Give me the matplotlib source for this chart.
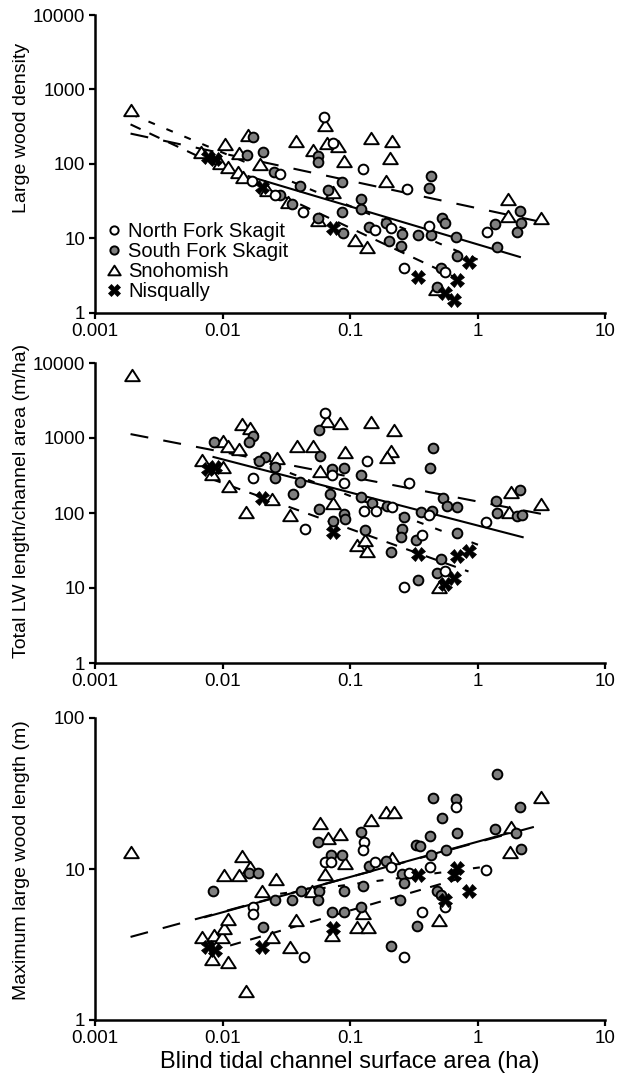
import matplotlib
matplotlib.use("Agg")
import matplotlib.pyplot as plt
from matplotlib.path import Path
from matplotlib.ticker import FixedLocator, FixedFormatter, NullLocator

plt.rcParams['font.family'] = ['Liberation Sans', 'DejaVu Sans']
plt.rcParams['lines.scale_dashes'] = False

# ---- panel 1: large wood density ----
nf1_x = [0.062, 0.074, 0.127, 0.282, 0.028, 0.017, 0.026, 0.043, 0.158, 0.211, 0.413, 0.263, 0.561, 1.18]
nf1_y = [428, 191, 86, 46, 73, 59, 38, 22.7, 13, 13.8, 14.7, 4.0, 3.5, 12.2]
sf1_x = [0.0174, 0.0156, 0.0209, 0.0255, 0.0407, 0.0565, 0.0565, 0.0676, 0.087, 0.087, 0.121, 0.121,
         0.14, 0.193, 0.204, 0.258, 0.249, 0.344, 0.429, 0.435, 0.413, 0.523, 0.561, 0.673, 0.686, 0.513,
         0.478, 1.36, 1.41, 2.14, 2.18, 2.03, 0.0353, 0.0565, 0.0887, 0.0284]
sf1_y = [230, 132, 145, 78, 51, 128, 106, 45, 57, 22.7, 34, 24.9, 14.3, 16.1, 9.2, 11.5, 7.9, 11.1,
         11.1, 69, 47.6, 18.8, 16.1, 10.5, 5.8, 4.0, 2.2, 15.7, 7.7, 23.4, 16.1, 12.2, 29, 18.8, 11.9, 38]
sn1_x = [0.0019, 0.0068, 0.0105, 0.0159, 0.0135, 0.0198, 0.0096, 0.0111, 0.0133, 0.0146, 0.0224, 0.0328,
         0.0379, 0.0515, 0.064, 0.0664, 0.081, 0.0904, 0.0742, 0.0565, 0.110, 0.137, 0.145, 0.215, 0.207,
         0.193, 1.75, 1.75, 3.13, 0.469]
sn1_y = [530, 145, 185, 245, 141, 100, 103, 91, 78, 67, 45, 31, 204, 154, 334, 191, 175, 110, 42, 17.7,
         9.5, 7.7, 223, 204, 120, 59, 34, 20, 18.8, 2.1]
nq_x = [0.0077, 0.0088, 0.0205, 0.073, 0.34, 0.56, 0.65, 0.69, 0.85]
nq1_y = [124, 117, 49, 13.8, 3.0, 1.85, 1.5, 2.8, 4.8]

# ---- panel 2: total LW length / channel area ----
nf2_x = [0.0632, 0.0175, 0.0447, 0.0723, 0.0894, 0.135, 0.128, 0.161, 0.214, 0.289, 0.368, 0.415, 0.267, 0.561, 1.17]
nf2_y = [2154, 296, 61, 324, 251, 489, 107, 105, 119, 251, 51, 95, 10.2, 17, 75]
sf2_x = [0.0085, 0.0175, 0.016, 0.0214, 0.0192, 0.026, 0.026, 0.0355, 0.0407, 0.0568, 0.0578, 0.0575,
         0.0702, 0.0723, 0.0894, 0.0736, 0.0894, 0.0912, 0.122, 0.122, 0.149, 0.132, 0.195, 0.267, 0.258,
         0.252, 0.21, 0.327, 0.34, 0.361, 0.45, 0.423, 0.44, 0.535, 0.579, 0.686, 0.513, 0.483, 0.693,
         1.39, 1.43, 2.15, 2.05, 2.25]
sf2_y = [877, 1054, 893, 553, 489, 406, 290, 179, 256, 1291, 581, 113, 179, 386, 398, 79, 97, 83, 321,
         162, 136, 60, 125, 89, 61, 48, 30, 43, 12.9, 102, 729, 395, 107, 157, 125, 121, 24.4, 15.7, 54,
         143, 99, 205, 90, 95]
sn2_x = [0.00194, 0.0142, 0.0165, 0.0101, 0.011, 0.0069, 0.0082, 0.0101, 0.0135, 0.0113, 0.0153, 0.0267,
         0.0244, 0.034, 0.0384, 0.0513, 0.066, 0.083, 0.0585, 0.092, 0.0736, 0.114, 0.13, 0.136, 0.147,
         0.221, 0.211, 0.195, 0.498, 1.84, 1.77, 3.13]
sn2_y = [6900, 1537, 1347, 920, 774, 514, 331, 406, 713, 231, 104, 535, 154, 94, 774, 789, 1700, 1585,
         366, 644, 136, 37, 43, 31, 1618, 1291, 678, 553, 10.2, 192, 104, 132]
nq2_y = [390, 410, 157, 56, 28, 11.3, 13.5, 27, 31]

# ---- panel 3: maximum large wood length ----
nf3_x = [0.0173, 0.0173, 0.0432, 0.0632, 0.0708, 0.128, 0.127, 0.158, 0.211, 0.265, 0.289, 0.368, 0.423, 0.561, 0.684, 1.17]
nf3_y = [5.6, 5.0, 2.6, 11.2, 11.2, 15, 13.4, 11.2, 10.3, 2.6, 9.4, 5.2, 10.3, 5.6, 25.7, 9.8]
sf3_x = [0.0084, 0.016, 0.019, 0.0207, 0.026, 0.0351, 0.0413, 0.0557, 0.0568, 0.0557, 0.0708, 0.0865,
         0.0905, 0.0723, 0.0905, 0.122, 0.127, 0.122, 0.142, 0.193, 0.21, 0.245, 0.256, 0.267, 0.327,
         0.356, 0.334, 0.423, 0.433, 0.45, 0.53, 0.571, 0.483, 0.513, 0.684, 0.693, 1.37, 1.42, 2.17, 2.0, 2.21]
sf3_y = [7.1, 9.4, 9.4, 4.15, 6.2, 6.2, 7.2, 15.2, 7.2, 6.2, 12.4, 12.4, 7.2, 5.2, 5.2, 17.7, 7.7, 5.6,
         10.5, 11.3, 3.1, 6.2, 9.3, 8.1, 14.4, 14.3, 4.2, 16.6, 12.4, 29.6, 21.7, 13.4, 7.2, 6.7, 29, 17.2,
         18.4, 42.6, 25.7, 17.4, 13.5]
sn3_x = [0.0019, 0.0069, 0.0086, 0.0099, 0.0102, 0.011, 0.0082, 0.0111, 0.0153, 0.0102, 0.0134, 0.0142,
         0.0163, 0.0204, 0.0244, 0.0264, 0.034, 0.0379, 0.0503, 0.0585, 0.0668, 0.064, 0.083, 0.092, 0.0723,
         0.114, 0.138, 0.127, 0.145, 0.192, 0.221, 0.214, 0.498, 1.84, 1.79, 3.17]
sn3_y = [13.0, 3.57, 3.66, 3.57, 4.05, 4.65, 2.52, 2.43, 1.56, 9.1, 9.1, 12.1, 10.3, 7.1, 3.57, 8.6, 3.05,
         4.6, 7.1, 20.3, 16.1, 9.2, 17.1, 11, 3.66, 4.15, 4.15, 5.1, 21.1, 23.9, 23.9, 11.8, 4.6, 19.1, 13.0, 29.9]
nq3_y = [3.05, 2.9, 3.05, 4.05, 9.1, 6.2, 9.1, 10.1, 7.1]

# regression lines, end points: (x ends, y ends)
fits1 = {'solid': ([0.016, 2.15], [68.6, 5.65]), 'long': ([0.0019, 3.2], [256, 16.6]),
         'short': ([0.0019, 1.16], [469, 4.7]), 'med': ([0.0019, 0.8], [340, 2.6])}
fits2 = {'solid': ([0.0085, 2.26], [558, 47.6]), 'long': ([0.0019, 3.2], [1127, 97]),
         'short': ([0.0175, 1.2], [524, 33.7]), 'med': ([0.008, 0.85], [288, 16.6])}
fits3 = {'solid': ([0.0073, 1.85], [4.8, 17.5]), 'long': ([0.0019, 3.1], [3.55, 19.5]),
         'short': ([0.02, 1.3], [6.6, 10.5]), 'med': ([0.008, 0.85], [2.85, 9.0])}

xticks = [0.001, 0.01, 0.1, 1, 10]
xticklabels = ['0.001', '0.01', '0.1', '1', '10']

tri = Path([(0, 0.78), (-1, -0.78), (1, -0.78), (0, 0.78)],
           [Path.MOVETO, Path.LINETO, Path.LINETO, Path.CLOSEPOLY])

dash = {'solid': '-', 'long': (0, (13, 11)), 'short': (0, (5, 9)), 'med': (0, (8, 7))}

fig = plt.figure(figsize=(6.38, 10.88), dpi=100)
L, W = 95 / 638, 510 / 638
axes = [fig.add_axes([L, 1 - 313 / 1088, W, 298 / 1088]),
        fig.add_axes([L, 1 - 663 / 1088, W, 300 / 1088]),
        fig.add_axes([L, 1 - 1020 / 1088, W, 302 / 1088])]

panels = [
    (nf1_x, nf1_y, sf1_x, sf1_y, sn1_x, sn1_y, nq1_y, fits1, (1, 10000), 'Large wood density', 0.62),
    (nf2_x, nf2_y, sf2_x, sf2_y, sn2_x, sn2_y, nq2_y, fits2, (1, 10000), 'Total LW length/channel area (m/ha)', 0.54),
    (nf3_x, nf3_y, sf3_x, sf3_y, sn3_x, sn3_y, nq3_y, fits3, (1, 100), 'Maximum large wood length (m)', 0.53),
]

for ax, (nfx, nfy, sfx, sfy, snx, sny, nqy, fits, ylim, ylab, ylab_y) in zip(axes, panels):
    ax.set_xscale('log')
    ax.set_yscale('log')
    for k in ['long', 'short', 'med', 'solid']:
        fx, fy = fits[k]
        ax.plot(fx, fy, color='black', lw=1.5, linestyle=dash[k], zorder=2)
    h_sn, = ax.plot(snx, sny, linestyle='none', marker=tri, ms=10.5, mfc='white', mec='black', mew=1.4, zorder=3)
    h_sf, = ax.plot(sfx, sfy, linestyle='none', marker='o', ms=7, mfc='#7f7f7f', mec='black', mew=1.4, zorder=4)
    h_nf, = ax.plot(nfx, nfy, linestyle='none', marker='o', ms=7, mfc='white', mec='black', mew=1.4, zorder=5)
    h_nq, = ax.plot(nq_x, nqy, linestyle='none', marker='X', ms=10, mfc='black', mec='black', mew=0.5, zorder=6)

    ax.set_xlim(0.001, 10)
    ax.set_ylim(*ylim)
    ax.xaxis.set_major_locator(FixedLocator(xticks))
    ax.xaxis.set_major_formatter(FixedFormatter(xticklabels))
    yt = [10 ** i for i in range(len(str(ylim[1])))]
    ax.yaxis.set_major_locator(FixedLocator(yt))
    ax.yaxis.set_major_formatter(FixedFormatter([str(v) for v in yt]))
    ax.xaxis.set_minor_locator(NullLocator())
    ax.yaxis.set_minor_locator(NullLocator())
    for s in ['top', 'right']:
        ax.spines[s].set_visible(False)
    for s in ['left', 'bottom']:
        ax.spines[s].set_linewidth(1.8)
    ax.tick_params(direction='out', length=4, width=1.6, labelsize=13.5, pad=3)
    ax.set_ylabel(ylab, fontsize=14)
    ax.yaxis.set_label_coords(-0.128, ylab_y)

    if ax is axes[0]:
        ax.legend([h_nf, h_sf, h_sn, h_nq],
                  ['North Fork Skagit', 'South Fork Skagit', 'Snohomish', 'Nisqually'],
                  loc='lower left', bbox_to_anchor=(0.0, 0.0), frameon=False, fontsize=14.5,
                  handlelength=0.7, handletextpad=0.35, labelspacing=0.05, borderaxespad=0.2,
                  markerscale=0.85)

fig.text(350 / 638, 1 - 1062 / 1088, 'Blind tidal channel surface area (ha)', ha='center', va='center', fontsize=17)

fig.savefig('out.png', dpi=100)
